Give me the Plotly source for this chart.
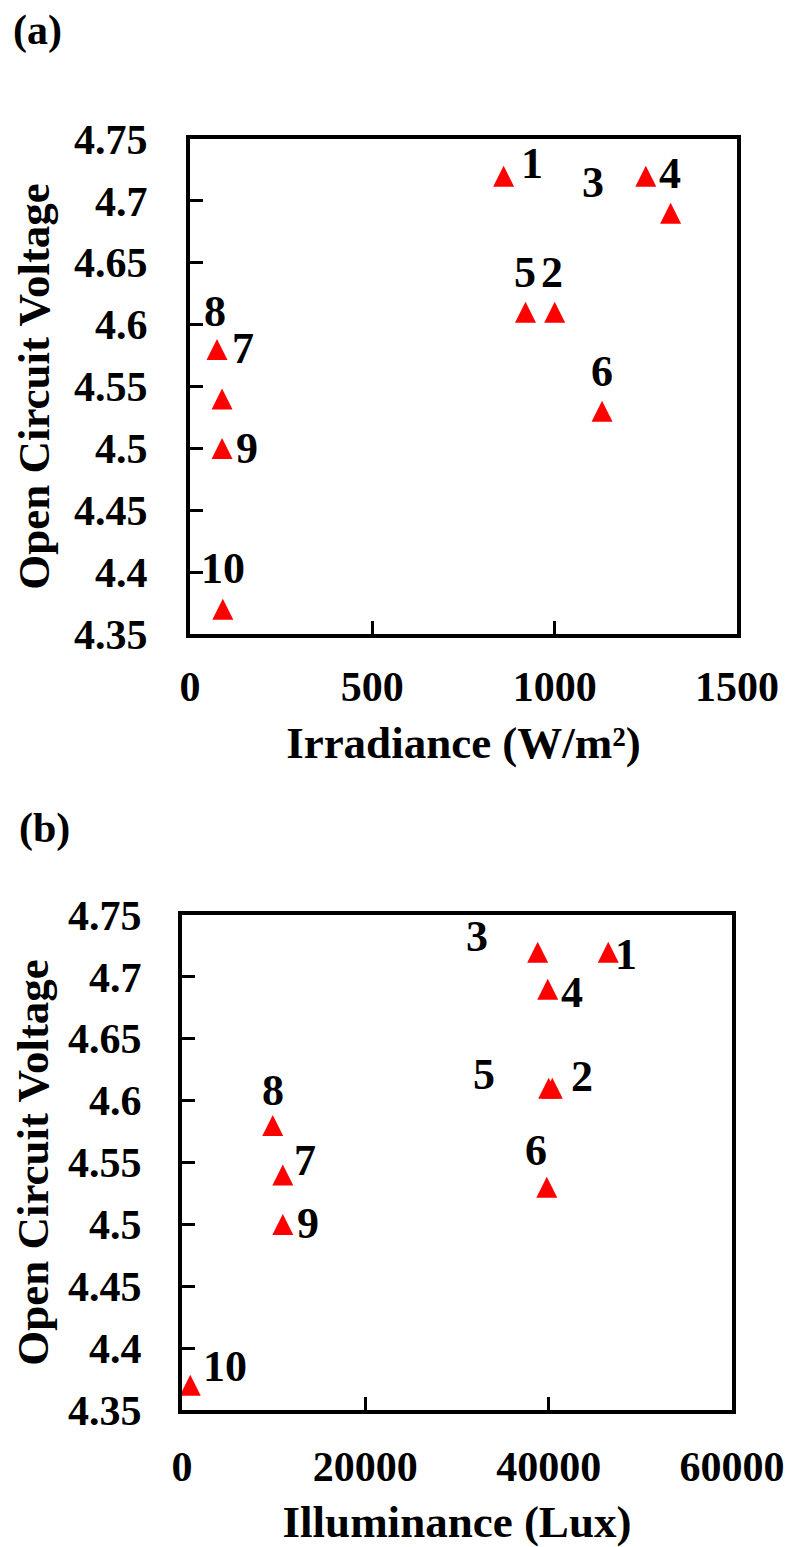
import plotly.graph_objects as go

# ---------------- data ----------------
point_ids = ["1", "2", "3", "4", "5", "6", "7", "8", "9", "10"]
irradiance = [860, 1000, 1250, 1318, 920, 1130, 88, 74, 88, 90]          # W/m²
illuminance = [46500, 40400, 38800, 39900, 40000, 39800, 11000, 9900, 11000, 900]  # Lux
voltage = [4.72, 4.61, 4.72, 4.69, 4.61, 4.53, 4.54, 4.58, 4.50, 4.37]   # V

y_tickvals = [4.35, 4.40, 4.45, 4.50, 4.55, 4.60, 4.65, 4.70, 4.75]
y_ticktext = ["4.35", "4.4", "4.45", "4.5", "4.55", "4.6", "4.65", "4.7", "4.75"]
xa_tickvals = [0, 500, 1000, 1500]
xa_ticktext = ["0", "500", "1000", "1500"]
xb_tickvals = [0, 20000, 40000, 60000]
xb_ticktext = ["0", "20000", "40000", "60000"]

# label offsets (pixels, dx right, dy down) – styling only
offs_a = [(28, -13), (-3, -40), (-53, 6), (-1, -40), (0, -40), (0, -40),
          (21, -50), (-2, -38), (25, 0), (0, -41)]
offs_b = [(18, 2), (30, -12), (-61, -16), (24, 3), (-65, -14), (-11, -37),
          (22, -14), (0, -35), (25, -1), (35, -19)]

W, H = 789, 1547
FONT = "Liberation Serif"

marker = dict(symbol="arrow-down", angle=180, standoff=10.5, size=21,
              color="#ff0000", line=dict(width=0))

fig = go.Figure()
fig.add_trace(go.Scatter(x=irradiance, y=voltage, mode="markers", marker=marker,
                         xaxis="x", yaxis="y", showlegend=False))
fig.add_trace(go.Scatter(x=illuminance, y=voltage, mode="markers", marker=marker,
                         xaxis="x2", yaxis="y2", showlegend=False))

tickfont = dict(family=FONT, size=42, color="black", weight="bold")
titlefont = dict(family=FONT, size=45, color="black", weight="bold")

common = dict(showline=True, linewidth=4, linecolor="black", mirror=True,
              ticks="inside", ticklen=13, tickwidth=3, tickcolor="black",
              showgrid=False, zeroline=False, tickfont=tickfont,
              automargin=False, tickmode="array")

fig.update_layout(
    width=W, height=H,
    margin=dict(l=0, r=0, t=0, b=0),
    paper_bgcolor="white", plot_bgcolor="white",
    xaxis=dict(domain=[190 / W, 737 / W], anchor="y", range=[0, 1500],
               tickvals=xa_tickvals, ticktext=xa_ticktext, ticklabelstandoff=13,
               title=dict(text="Irradiance (W/m²)", font=titlefont, standoff=18),
               **common),
    yaxis=dict(domain=[1 - 634 / H, 1 - 139 / H], anchor="x", range=[4.35, 4.75],
               tickvals=y_tickvals, ticktext=y_ticktext, ticklabelstandoff=30,
               title=dict(text="Open Circuit Voltage", font=titlefont, standoff=11),
               **common),
    xaxis2=dict(domain=[182 / W, 732 / W], anchor="y2", range=[0, 60000],
                tickvals=xb_tickvals, ticktext=xb_ticktext, ticklabelstandoff=17,
                title=dict(text="Illuminance (Lux)", font=titlefont, standoff=18),
                **common),
    yaxis2=dict(domain=[1 - 1410 / H, 1 - 915 / H], anchor="x2", range=[4.35, 4.75],
                tickvals=y_tickvals, ticktext=y_ticktext, ticklabelstandoff=28,
                title=dict(text="Open Circuit Voltage", font=titlefont, standoff=6),
                **common),
)

annotations = []
for pid, xv, yv, (dx, dy) in zip(point_ids, irradiance, voltage, offs_a):
    annotations.append(dict(x=xv, y=yv, xref="x", yref="y", text=pid, showarrow=False,
                            xanchor="center", yanchor="middle", xshift=dx, yshift=-dy,
                            font=dict(family=FONT, size=44, color="black", weight="bold")))
for pid, xv, yv, (dx, dy) in zip(point_ids, illuminance, voltage, offs_b):
    annotations.append(dict(x=xv, y=yv, xref="x2", yref="y2", text=pid, showarrow=False,
                            xanchor="center", yanchor="middle", xshift=dx, yshift=-dy,
                            font=dict(family=FONT, size=44, color="black", weight="bold")))
annotations.append(dict(x=37 / W, y=1 - 30 / H, xref="paper", yref="paper", text="(a)",
                        xanchor="center", yanchor="middle", showarrow=False,
                        font=dict(family=FONT, size=42, color="black", weight="bold")))
annotations.append(dict(x=44.5 / W, y=1 - 828 / H, xref="paper", yref="paper", text="(b)",
                        xanchor="center", yanchor="middle", showarrow=False,
                        font=dict(family=FONT, size=42, color="black", weight="bold")))
fig.update_layout(annotations=annotations)

fig.write_html("out.html")
